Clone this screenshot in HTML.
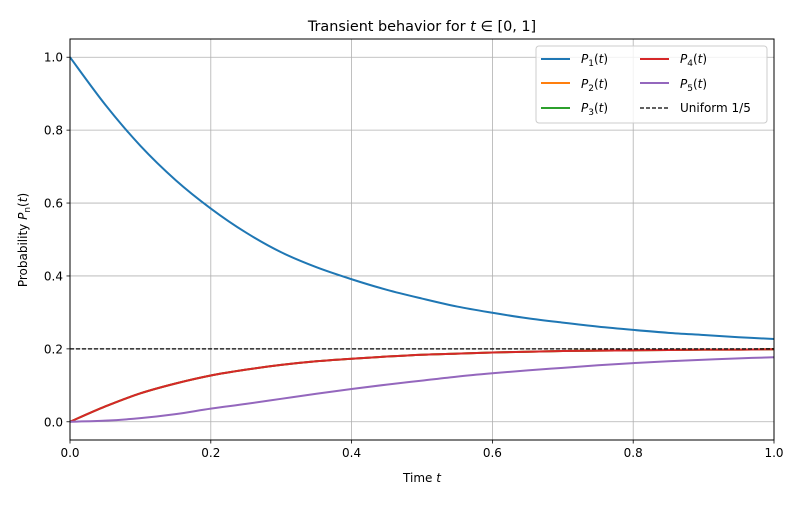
<!DOCTYPE html>
<html><head><meta charset="utf-8"><style>
body{margin:0;background:#fff;font-family:"Liberation Sans","DejaVu Sans",sans-serif}
text{font-family:"DejaVu Sans","Liberation Sans",sans-serif}
</style></head><body>
<svg id="chart" width="800" height="500" xmlns="http://www.w3.org/2000/svg"></svg>
<script>
const times=[0,0.05,0.1,0.15,0.2,0.25,0.3,0.35,0.4,0.45,0.5,0.55,0.6,0.65,0.7,0.75,0.8,0.85,0.9,0.95,1.0];
const p1=[1.0,0.87,0.757,0.663,0.585,0.519,0.465,0.424,0.391,0.362,0.338,0.316,0.299,0.284,0.272,0.261,0.252,0.244,0.238,0.232,0.227];
const p2=[0,0.042,0.078,0.105,0.127,0.143,0.156,0.166,0.173,0.179,0.184,0.187,0.190,0.192,0.194,0.195,0.196,0.197,0.198,0.198,0.199];
const p3=[0,0.042,0.078,0.105,0.127,0.143,0.156,0.166,0.173,0.179,0.184,0.187,0.190,0.192,0.194,0.195,0.196,0.197,0.198,0.198,0.199];
const p4=[0,0.042,0.078,0.105,0.127,0.143,0.156,0.166,0.173,0.179,0.184,0.187,0.190,0.192,0.194,0.195,0.196,0.197,0.198,0.198,0.199];
const p5=[0,0.003,0.010,0.021,0.036,0.049,0.063,0.077,0.090,0.102,0.113,0.124,0.133,0.141,0.148,0.155,0.161,0.166,0.170,0.174,0.177];
const uniform=0.2;
const xTicks=[0,0.2,0.4,0.6,0.8,1.0];
const yTicks=[0,0.2,0.4,0.6,0.8,1.0];
const L=70,R=774,T=39,B=440;
const xs=v=>L+(v-0)/(1-0)*(R-L);
const ys=v=>B-(v+0.05)/1.1*(B-T);
const svg=document.getElementById('chart');
const NS='http://www.w3.org/2000/svg';
function mk(tag,at,parent){const e=document.createElementNS(NS,tag);for(const k in at)e.setAttribute(k,at[k]);(parent||svg).appendChild(e);return e;}
xTicks.forEach(v=>{const g=mk('line',{x1:xs(v),x2:xs(v),y1:T,y2:B,stroke:'#b0b0b0','stroke-width':0.8});


const tk=mk('line',{x1:xs(v),x2:xs(v),y1:B,y2:B+3.5,stroke:'#000','stroke-width':0.8});


const t=mk('text',{x:xs(v),y:B+17,'text-anchor':'middle','font-size':12,fill:'#000'});t.textContent=v.toFixed(1);

});
yTicks.forEach(v=>{const g=mk('line',{x1:L,x2:R,y1:ys(v),y2:ys(v),stroke:'#b0b0b0','stroke-width':0.8});


const tk=mk('line',{x1:L-3.5,x2:L,y1:ys(v),y2:ys(v),stroke:'#000','stroke-width':0.8});


const t=mk('text',{x:L-7,y:ys(v)+4.5,'text-anchor':'end','font-size':12,fill:'#000'});t.textContent=v.toFixed(1);

});
function smooth(vals){const pts=times.map((t,i)=>[xs(t),ys(vals[i])]);let d='M'+pts[0][0]+','+pts[0][1];
for(let i=0;i<pts.length-1;i++){const p0=pts[Math.max(i-1,0)],p1_=pts[i],p2_=pts[i+1],p3_=pts[Math.min(i+2,pts.length-1)];
const c1=[p1_[0]+(p2_[0]-p0[0])/6,p1_[1]+(p2_[1]-p0[1])/6],c2=[p2_[0]-(p3_[0]-p1_[0])/6,p2_[1]-(p3_[1]-p1_[1])/6];
d+=' C'+c1+' '+c2+' '+p2_;}return d;}
const series=[[p1,'#1f77b4','series-p1'],[p2,'#ff7f0e','series-p2'],[p3,'#2ca02c','series-p3'],[p4,'#d62728','series-p4'],[p5,'#9467bd','series-p5']];
const clip=mk('clipPath',{id:'clp'});mk('rect',{x:L,y:T,width:R-L,height:B-T},clip);
series.forEach(s=>{const p=mk('path',{d:smooth(s[0]),fill:'none',stroke:s[1],'stroke-width':2,'clip-path':'url(#clp)'});

});
const u=mk('line',{x1:L,x2:R,y1:ys(uniform),y2:ys(uniform),stroke:'#000','stroke-width':1.2,'stroke-dasharray':'4,2'});


const fr=mk('rect',{x:L,y:T,width:R-L,height:B-T,fill:'none',stroke:'#000','stroke-width':1});


</script>
<svg style="position:absolute;left:0;top:0" width="800" height="500" xmlns="http://www.w3.org/2000/svg">
<text x="422" y="31" text-anchor="middle" font-size="14.4" font-family="DejaVu Sans, sans-serif">Transient behavior for <tspan font-style="italic">t</tspan> ∈ [0, 1]</text>
<text x="422" y="482" text-anchor="middle" font-size="12" font-family="DejaVu Sans, sans-serif">Time <tspan font-style="italic">t</tspan></text>
<text transform="translate(27,240) rotate(-90)" text-anchor="middle" font-size="12" font-family="DejaVu Sans, sans-serif">Probability <tspan font-style="italic">P</tspan><tspan font-size="9" dy="3">n</tspan><tspan dy="-3">(<tspan font-style="italic">t</tspan>)</tspan></text>
<g font-family="DejaVu Sans, sans-serif" font-size="12">
<rect x="536" y="46" width="231" height="77" rx="3" fill="#fff" fill-opacity="0.8" stroke="#ccc"/>
<g><line x1="541" x2="570" y1="59" y2="59" stroke="#1f77b4" stroke-width="2"/><text x="581" y="63"><tspan font-style="italic">P</tspan><tspan font-size="9" dy="3">1</tspan><tspan dy="-3">(<tspan font-style="italic">t</tspan>)</tspan></text></g>
<g><line x1="541" x2="570" y1="83" y2="83" stroke="#ff7f0e" stroke-width="2"/><text x="581" y="88"><tspan font-style="italic">P</tspan><tspan font-size="9" dy="3">2</tspan><tspan dy="-3">(<tspan font-style="italic">t</tspan>)</tspan></text></g>
<g><line x1="541" x2="570" y1="108" y2="108" stroke="#2ca02c" stroke-width="2"/><text x="581" y="112"><tspan font-style="italic">P</tspan><tspan font-size="9" dy="3">3</tspan><tspan dy="-3">(<tspan font-style="italic">t</tspan>)</tspan></text></g>
<g><line x1="640" x2="669" y1="59" y2="59" stroke="#d62728" stroke-width="2"/><text x="680" y="63"><tspan font-style="italic">P</tspan><tspan font-size="9" dy="3">4</tspan><tspan dy="-3">(<tspan font-style="italic">t</tspan>)</tspan></text></g>
<g><line x1="640" x2="669" y1="83" y2="83" stroke="#9467bd" stroke-width="2"/><text x="680" y="88"><tspan font-style="italic">P</tspan><tspan font-size="9" dy="3">5</tspan><tspan dy="-3">(<tspan font-style="italic">t</tspan>)</tspan></text></g>
<g><line x1="640" x2="669" y1="108" y2="108" stroke="#000" stroke-width="1.2" stroke-dasharray="4,2"/><text x="680" y="112">Uniform 1/5</text></g>
</g>
</svg>
</body></html>
